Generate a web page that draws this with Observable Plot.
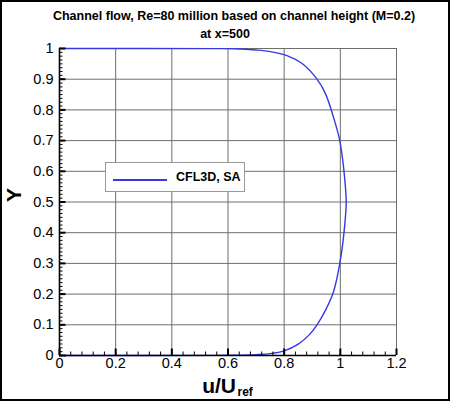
<!DOCTYPE html>
<html>
<head>
<meta charset="utf-8">
<script src="https://cdn.jsdelivr.net/npm/d3@7"></script>
<script src="https://cdn.jsdelivr.net/npm/@observablehq/plot@0.6"></script>
<style>
  body { margin: 0; background: #fff; }
  #wrap { position: relative; width: 450px; height: 401px; font-family: "Liberation Sans", Arial, Helvetica, sans-serif; }
  #border { position: absolute; left: 0; top: 0; width: 450px; height: 401px; box-sizing: border-box; border: 2px solid #000; pointer-events: none; }
  #legend { position: absolute; left: 105px; top: 162px; width: 140px; height: 30px; box-sizing: border-box; border: 1px solid #999; background: #fff; }
  #legend .swatch { position: absolute; left: 7px; top: 16px; width: 54px; height: 2px; background: #3838e0; }
  #legend .lab { position: absolute; left: 70px; top: 7px; font-weight: bold; font-size: 12.5px; color: #000; white-space: nowrap; }
</style>
</head>
<body>
<div id="wrap">
  <div id="chart"></div>
  <div id="legend"><div class="swatch"></div><div class="lab"></div></div>
  <div id="border"></div>
</div>
<script>
// ---- data ----
const title = "Channel flow, Re=80 million based on channel height (M=0.2)";
const subtitle = "at x=500";
const seriesName = "CFL3D, SA";
const xLabel = "u/U";
const xLabelSub = "ref";
const yLabel = "Y";

const xTicks = [0, 0.2, 0.4, 0.6, 0.8, 1.0, 1.2];
const xTickLabels = ["0", "0.2", "0.4", "0.6", "0.8", "1", "1.2"];
const yTicks = [0, 0.1, 0.2, 0.3, 0.4, 0.5, 0.6, 0.7, 0.8, 0.9, 1.0];
const yTickLabels = ["0", "0.1", "0.2", "0.3", "0.4", "0.5", "0.6", "0.7", "0.8", "0.9", "1"];

// velocity profile u/Uref vs Y
const uValues = [0, 0.55, 0.62, 0.70, 0.75, 0.80, 0.85, 0.89, 0.917, 0.947, 0.973, 0.986, 0.998, 1.0065, 1.013, 1.018, 1.021,
                 1.018, 1.013, 1.0065, 0.998, 0.979, 0.947, 0.917, 0.864, 0.81, 0.75, 0.70, 0.62, 0.55, 0];
const yValues = [0, 0.0003, 0.001, 0.003, 0.006, 0.015, 0.037, 0.068, 0.1, 0.147, 0.2, 0.244, 0.3, 0.35, 0.4, 0.45, 0.5,
                 0.55, 0.6, 0.65, 0.7, 0.766, 0.853, 0.9, 0.951, 0.977, 0.99, 0.995, 0.999, 0.9997, 1];

const profile = uValues.map((u, i) => ({u, y: yValues[i]}));

const xMinor = d3.range(0, 1.2001, 0.04);
const yMinor = d3.range(0, 1.0001, 0.0125);

const W = 450, H = 401, mL = 59, mR = 54, mT = 48, mB = 46;
const pw = W - mL - mR, ph = H - mT - mB;
const font = "Liberation Sans, Arial, Helvetica, sans-serif";
const lineColor = "#3838e0";

const chart = Plot.plot({
  width: W, height: H,
  marginLeft: mL, marginRight: mR, marginTop: mT, marginBottom: mB,
  style: {fontFamily: font, background: "#fff", color: "#000", overflow: "visible"},
  x: {domain: [0, 1.2]},
  y: {domain: [0, 1]},
  marks: [
    Plot.gridX(xTicks, {stroke: "#6e6e6e", strokeOpacity: 1, strokeWidth: 1}),
    Plot.gridY(yTicks, {stroke: "#6e6e6e", strokeOpacity: 1, strokeWidth: 1}),
    Plot.line(profile, {x: "u", y: "y", stroke: lineColor, strokeWidth: 1.4, curve: "catmull-rom"}),
    // axis lines
    Plot.ruleX([0], {stroke: "#000", strokeWidth: 1.6}),
    Plot.ruleY([0], {stroke: "#000", strokeWidth: 1.6}),
    // minor ticks (inward)
    Plot.ruleX(xMinor, {stroke: "#000", strokeWidth: 1, insetTop: ph - 3.5}),
    Plot.ruleY(yMinor, {stroke: "#000", strokeWidth: 1, insetRight: pw - 3.5}),
    // major ticks (inward)
    Plot.ruleX(xTicks, {stroke: "#000", strokeWidth: 2, insetTop: ph - 6.5}),
    Plot.ruleY(yTicks, {stroke: "#000", strokeWidth: 2, insetRight: pw - 6.5}),
    // tick labels
    Plot.axisX(xTicks, {tickSize: 0, tickPadding: 2, fontSize: 14.5, label: null,
      tickFormat: (d) => xTickLabels[xTicks.indexOf(d)]}),
    Plot.axisY(yTicks, {tickSize: 0, tickPadding: 6, fontSize: 14.5, label: null,
      tickFormat: (d) => yTickLabels[yTicks.indexOf(d)]}),
    // titles
    Plot.text([title], {frameAnchor: "top", dx: 6, dy: -29, lineAnchor: "bottom", fontSize: 12.5, fontWeight: "bold"}),
    Plot.text([subtitle], {frameAnchor: "top", dx: -3, dy: -11, lineAnchor: "bottom", fontSize: 12.5, fontWeight: "bold"}),
    // axis titles
    Plot.text([yLabel], {frameAnchor: "left", dx: -45, rotate: -90, fontSize: 21, fontWeight: "bold"}),
    Plot.text([xLabel], {frameAnchor: "bottom", dx: 8, dy: 37, lineAnchor: "bottom", textAnchor: "end", fontSize: 21, fontWeight: "bold"}),
    Plot.text([xLabelSub], {frameAnchor: "bottom", dx: 9.5, dy: 40, lineAnchor: "bottom", textAnchor: "start", fontSize: 12, fontWeight: "bold"})
  ]
});
document.getElementById("chart").appendChild(chart);
document.querySelector("#legend .lab").textContent = seriesName;
document.querySelector("#legend .swatch").style.background = lineColor;
</script>
</body>
</html>
